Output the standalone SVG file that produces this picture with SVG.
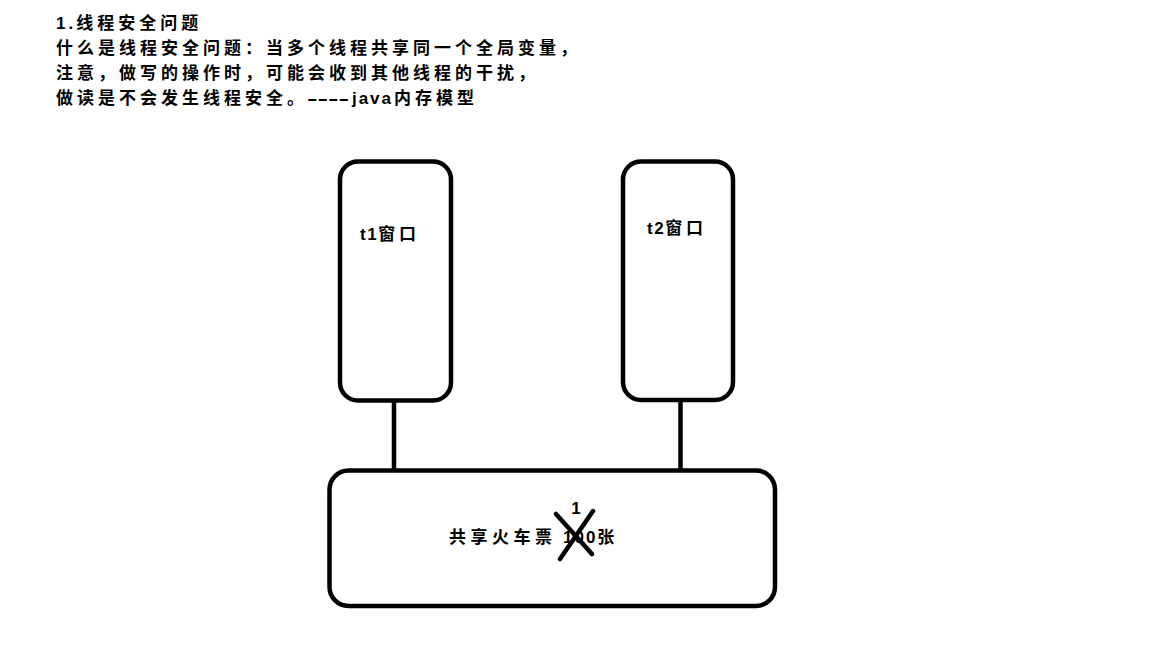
<svg xmlns="http://www.w3.org/2000/svg" width="1152" height="648" viewBox="0 0 1152 648">
<style>
.t{font-family:"Liberation Sans","Noto Sans CJK SC",sans-serif;font-weight:bold;font-size:17px;fill:#000}
.box{fill:#fff;stroke:#000;stroke-width:4.5}
.ln{stroke:#000;stroke-width:4.5;fill:none;stroke-linecap:round}
</style>
<rect width="1152" height="648" fill="#fff"/>
<g id="notes">
<text class="t" x="56" y="29" letter-spacing="4"><tspan letter-spacing="3">1.</tspan>线程安全问题</text>
<text class="t" x="56" y="54" letter-spacing="4">什么是线程安全问题：当多个线程共享同一个全局变量，</text>
<text class="t" x="56" y="79" letter-spacing="4">注意，做写的操作时，可能会收到其他线程的干扰，</text>
<text class="t" x="56" y="104" letter-spacing="4">做读是不会发生线程安全。</text>
<text class="t" x="307" y="104" textLength="42" lengthAdjust="spacingAndGlyphs">----</text>
<text class="t" x="352" y="104" textLength="39" lengthAdjust="spacing">java</text>
<text class="t" x="394" y="104" letter-spacing="4">内存模型</text>
</g>
<g id="connectors">
<line class="ln" x1="394" y1="401" x2="394" y2="470"/>
<line class="ln" x1="680.5" y1="400" x2="680.5" y2="473"/>
</g>
<g id="t1">
<rect class="box" x="340" y="161.5" width="111" height="239" rx="18"/>
<text class="t" x="360" y="240" letter-spacing="4"><tspan letter-spacing="1.5">t1</tspan>窗口</text>
</g>
<g id="t2">
<rect class="box" x="623" y="161.5" width="110" height="238.5" rx="18"/>
<text class="t" x="647" y="234" letter-spacing="4"><tspan letter-spacing="1.5">t2</tspan>窗口</text>
</g>
<g id="tickets">
<rect class="box" x="329.5" y="470.5" width="445.5" height="135.5" rx="19"/>
<text class="t" x="449" y="543" letter-spacing="4.5">共享火车票<tspan x="563" letter-spacing="2">100张</tspan></text>
<line class="ln" x1="556" y1="514" x2="592" y2="554"/>
<line class="ln" x1="593" y1="511" x2="560" y2="559"/>
<text class="t" x="576" y="514" font-size="15" text-anchor="middle">1</text>
</g>
</svg>
